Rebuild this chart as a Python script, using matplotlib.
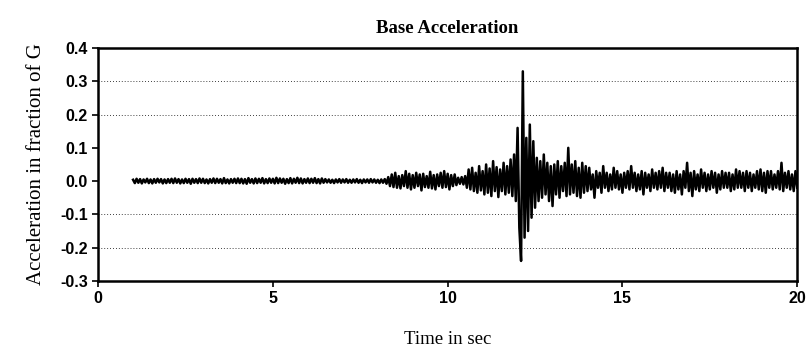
import matplotlib.pyplot as plt
import numpy as np

t_start = 1.0
dt = 0.05
acc = [
    # 1 s
    0.004, -0.006, 0.007, -0.005, 0.006, -0.007, 0.005, -0.004, 0.007, -0.006,
    0.005, -0.007, 0.006, -0.005, 0.007, -0.004, 0.006, -0.007, 0.005, -0.006,
    # 2 s
    0.006, -0.005, 0.007, -0.006, 0.008, -0.005, 0.006, -0.007, 0.005, -0.006,
    0.007, -0.005, 0.006, -0.008, 0.007, -0.005, 0.006, -0.006, 0.008, -0.005,
    # 3 s
    0.007, -0.006, 0.005, -0.007, 0.006, -0.005, 0.008, -0.006, 0.007, -0.005,
    0.006, -0.007, 0.009, -0.006, 0.005, -0.007, 0.006, -0.005, 0.007, -0.006,
    # 4 s
    0.008, -0.006, 0.007, -0.007, 0.006, -0.008, 0.009, -0.005, 0.006, -0.007,
    0.008, -0.006, 0.007, -0.005, 0.009, -0.007, 0.006, -0.006, 0.008, -0.005,
    # 5 s
    0.007, -0.007, 0.010, -0.006, 0.008, -0.005, 0.007, -0.008, 0.006, -0.006,
    0.009, -0.007, 0.007, -0.005, 0.010, -0.006, 0.008, -0.007, 0.006, -0.005,
    # 6 s
    0.008, -0.006, 0.007, -0.005, 0.009, -0.006, 0.006, -0.007, 0.008, -0.005,
    0.006, -0.004, 0.005, -0.005, 0.004, -0.006, 0.005, -0.004, 0.006, -0.005,
    # 7 s
    0.005, -0.004, 0.006, -0.005, 0.004, -0.005, 0.005, -0.004, 0.006, -0.005,
    0.004, -0.006, 0.005, -0.004, 0.005, -0.005, 0.006, -0.004, 0.005, -0.005,
    # 8 s
    0.004, -0.006, 0.005, -0.005, 0.006, -0.008, 0.012, -0.015, 0.020, -0.018,
    0.025, -0.020, 0.015, -0.022, 0.018, -0.015, 0.030, -0.020, 0.022, -0.025,
    # 9 s
    0.018, -0.020, 0.025, -0.015, 0.020, -0.028, 0.022, -0.018, 0.015, -0.020,
    0.028, -0.022, 0.018, -0.025, 0.020, -0.015, 0.025, -0.020, 0.030, -0.018,
    # 10 s
    0.022, -0.025, 0.018, -0.015, 0.020, -0.012, 0.010, -0.008, 0.012, -0.010,
    0.015, -0.020, 0.035, -0.025, 0.040, -0.030, 0.025, -0.035, 0.045, -0.028,
    # 11 s
    0.030, -0.040, 0.050, -0.035, 0.038, -0.045, 0.060, -0.030, 0.042, -0.048,
    0.035, -0.030, 0.055, -0.040, 0.045, -0.035, 0.065, -0.045, 0.080, -0.060,
    # 12 s
    0.160, -0.140, -0.240, 0.330, -0.170, 0.130, -0.150, 0.170, -0.110, 0.120,
    -0.080, 0.070, -0.060, 0.060, -0.050, 0.080, -0.040, 0.055, -0.060, 0.045,
    # 13 s
    -0.075, 0.050, -0.040, 0.060, -0.050, 0.045, -0.030, 0.055, -0.045, 0.100,
    -0.040, 0.050, -0.035, 0.060, -0.045, 0.040, -0.050, 0.055, -0.035, 0.045,
    # 14 s
    -0.030, 0.040, -0.025, 0.020, -0.050, 0.030, -0.020, 0.025, -0.035, 0.045,
    -0.020, 0.025, -0.030, 0.020, -0.025, 0.040, -0.020, 0.030, -0.025, 0.020,
    # 15 s
    -0.035, 0.025, -0.020, 0.030, -0.025, 0.045, -0.020, 0.025, -0.030, 0.020,
    -0.025, 0.030, -0.040, 0.025, -0.020, 0.020, -0.030, 0.035, -0.020, 0.025,
    # 16 s
    -0.025, 0.030, -0.020, 0.040, -0.030, 0.025, -0.020, 0.025, -0.030, 0.020,
    -0.035, 0.030, -0.025, 0.020, -0.040, 0.030, -0.020, 0.055, -0.030, 0.025,
    # 17 s
    -0.045, 0.030, -0.025, 0.020, -0.030, 0.035, -0.020, 0.025, -0.030, 0.020,
    -0.025, 0.030, -0.020, 0.025, -0.035, 0.020, -0.025, 0.030, -0.020, 0.025,
    # 18 s
    -0.020, 0.025, -0.030, 0.020, -0.025, 0.035, -0.020, 0.030, -0.020, 0.025,
    -0.030, 0.030, -0.020, 0.025, -0.030, 0.020, -0.020, 0.030, -0.025, 0.035,
    # 19 s
    -0.030, 0.025, -0.035, 0.030, -0.020, 0.030, -0.025, 0.020, -0.020, 0.030,
    -0.025, 0.055, -0.030, 0.025, -0.020, 0.030, -0.025, 0.020, -0.030, 0.030,
    # 20 s
    -0.020,
]
t = t_start + dt * np.arange(len(acc))

x_ticks = [0, 5, 10, 15, 20]
y_ticks = [-0.3, -0.2, -0.1, 0.0, 0.1, 0.2, 0.3, 0.4]
grid_levels = [0.3, 0.2, -0.1, -0.2]

plt.rcParams['font.family'] = ['Liberation Serif', 'DejaVu Serif']
tick_font = ['Liberation Sans', 'DejaVu Sans']

fig = plt.figure(figsize=(8.11, 3.56), dpi=100)
ax = fig.add_axes([0.121, 0.211, 0.862, 0.654])

# dotted gridlines
for g in grid_levels:
    ax.axhline(g, color='black', linewidth=0.6, linestyle=(0, (1, 2.5)), zorder=0)

ax.plot(t, acc, color='black', linewidth=1.8)

ax.set_xlim(0, 20)
ax.set_ylim(-0.3, 0.4)
ax.set_xticks(x_ticks)
ax.set_xticklabels([str(v) for v in x_ticks], fontsize=11.5, fontweight='bold',
                   family=tick_font)
ax.set_yticks(y_ticks)
ax.set_yticklabels(['%.1f' % v for v in y_ticks], fontsize=11.5, fontweight='bold',
                   family=tick_font)
ax.tick_params(direction='out', length=4, width=1.2)

for s in ax.spines.values():
    s.set_linewidth(1.8)

ax.set_title('Base Acceleration', fontsize=13.5, fontweight='bold', pad=11)
ax.set_xlabel('Time in sec', fontsize=13.5, labelpad=18)
ax.set_ylabel('Acceleration in fraction of G', fontsize=15, labelpad=10)

fig.savefig('out.png', dpi=100)
